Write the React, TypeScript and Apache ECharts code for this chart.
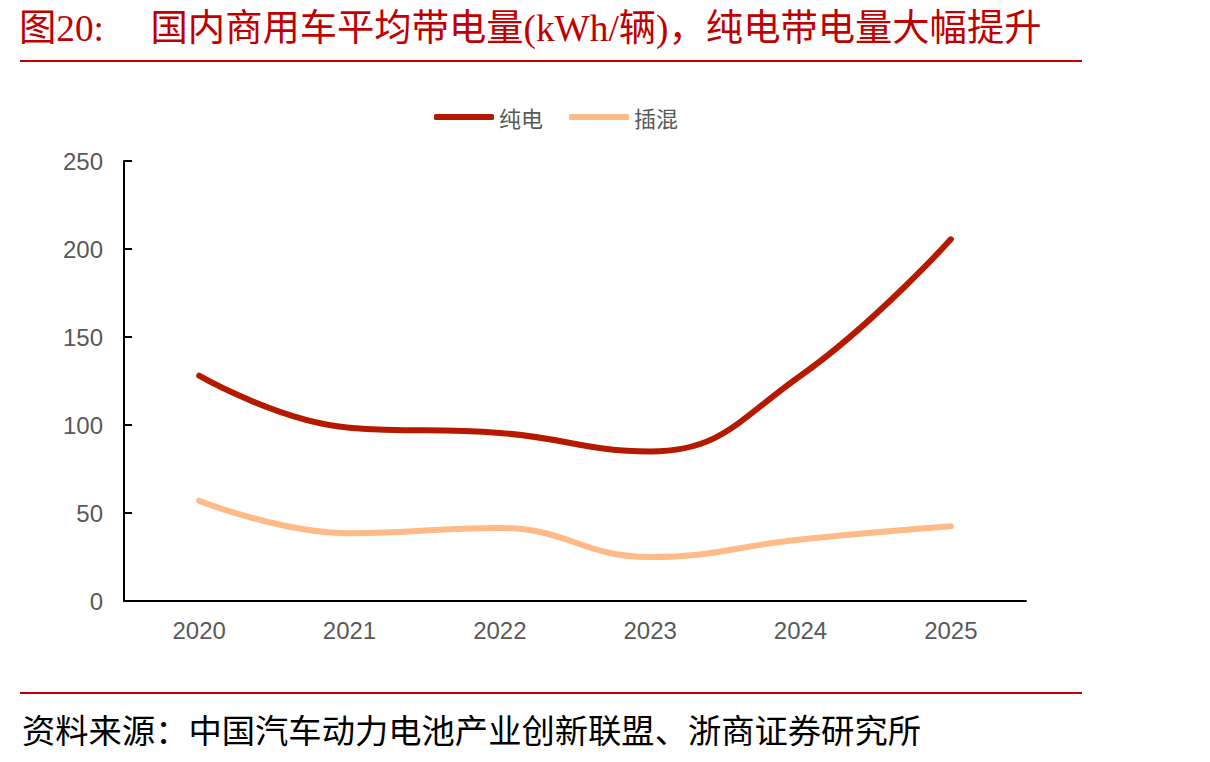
import React, { useEffect, useRef } from "react";
import * as echarts from "echarts";

// Average battery capacity of domestic commercial vehicles (kWh per vehicle)
const years = ["2020", "2021", "2022", "2023", "2024", "2025"];
const bevValues = [128, 98.5, 95.5, 85, 128, 205.5];
const phevValues = [57, 38.5, 41.5, 25, 35, 42.5];
const seriesNames = ["纯电", "插混"];
const yTicks = { min: 0, max: 250, interval: 50 };

const titleText = "图20:     国内商用车平均带电量(kWh/辆)，纯电带电量大幅提升";
const sourceText = "资料来源：中国汽车动力电池产业创新联盟、浙商证券研究所";

const RED = "#C00000";
const BEV_COLOR = "#B51A00";
const PHEV_COLOR = "#FFBA88";
const LABEL_GRAY = "#595959";

export default function App() {
  const ref = useRef<HTMLDivElement>(null);

  useEffect(() => {
    if (!ref.current) return;
    const chart = echarts.init(ref.current, null, { renderer: "svg" });
    chart.setOption({
      animation: false,
      backgroundColor: "#ffffff",
      title: {
        text: titleText,
        left: 14,
        top: 5,
        textStyle: {
          color: RED,
          fontSize: 37.3,
          fontWeight: "normal",
          fontFamily: "'Liberation Serif', 'Noto Sans CJK SC', serif",
        },
      },
      legend: {
        data: seriesNames,
        top: 101,
        left: 429,
        icon: "roundRect",
        itemWidth: 60,
        itemHeight: 6,
        itemGap: 26,
        textStyle: {
          color: LABEL_GRAY,
          fontSize: 22,
          fontFamily: "'Noto Sans CJK SC', sans-serif",
        },
      },
      grid: {
        left: 124,
        right: 184,
        top: 161,
        bottom: 161,
        containLabel: false,
      },
      xAxis: {
        type: "category",
        data: years,
        boundaryGap: true,
        axisLine: { show: true, lineStyle: { color: "#000", width: 2 } },
        axisTick: { show: false },
        splitLine: { show: false },
        axisLabel: {
          color: LABEL_GRAY,
          fontSize: 24,
          margin: 17,
          fontFamily: "'Liberation Sans', Arial, sans-serif",
        },
      },
      yAxis: {
        type: "value",
        min: yTicks.min,
        max: yTicks.max,
        interval: yTicks.interval,
        axisLine: { show: true, lineStyle: { color: "#000", width: 2 } },
        axisTick: { show: true, inside: true, length: 8, lineStyle: { color: "#000", width: 2 } },
        splitLine: { show: false },
        axisLabel: {
          color: LABEL_GRAY,
          fontSize: 24,
          margin: 21,
          fontFamily: "'Liberation Sans', Arial, sans-serif",
        },
      },
      series: [
        {
          name: seriesNames[0],
          type: "line",
          data: bevValues,
          smooth: 0.45,
          showSymbol: false,
          symbol: "none",
          color: BEV_COLOR,
          lineStyle: { color: BEV_COLOR, width: 6, cap: "round" },
        },
        {
          name: seriesNames[1],
          type: "line",
          data: phevValues,
          smooth: 0.45,
          showSymbol: false,
          symbol: "none",
          color: PHEV_COLOR,
          lineStyle: { color: PHEV_COLOR, width: 6, cap: "round" },
        },
      ],
      graphic: [
        {
          type: "line",
          shape: { x1: 20, y1: 61, x2: 1082, y2: 61 },
          style: { stroke: RED, lineWidth: 2 },
        },
        {
          type: "line",
          shape: { x1: 20, y1: 693, x2: 1082, y2: 693 },
          style: { stroke: RED, lineWidth: 2 },
        },
        {
          type: "text",
          left: 22,
          top: 712,
          style: {
            text: sourceText,
            fill: "#000",
            fontSize: 33.3,
            fontFamily: "'Noto Sans CJK SC', sans-serif",
          },
        },
      ],
    });
    return () => chart.dispose();
  }, []);

  return (
    <div
      ref={ref}
      style={{ position: "fixed", left: 0, top: 0, width: 1210, height: 762, background: "#fff" }}
    />
  );
}
